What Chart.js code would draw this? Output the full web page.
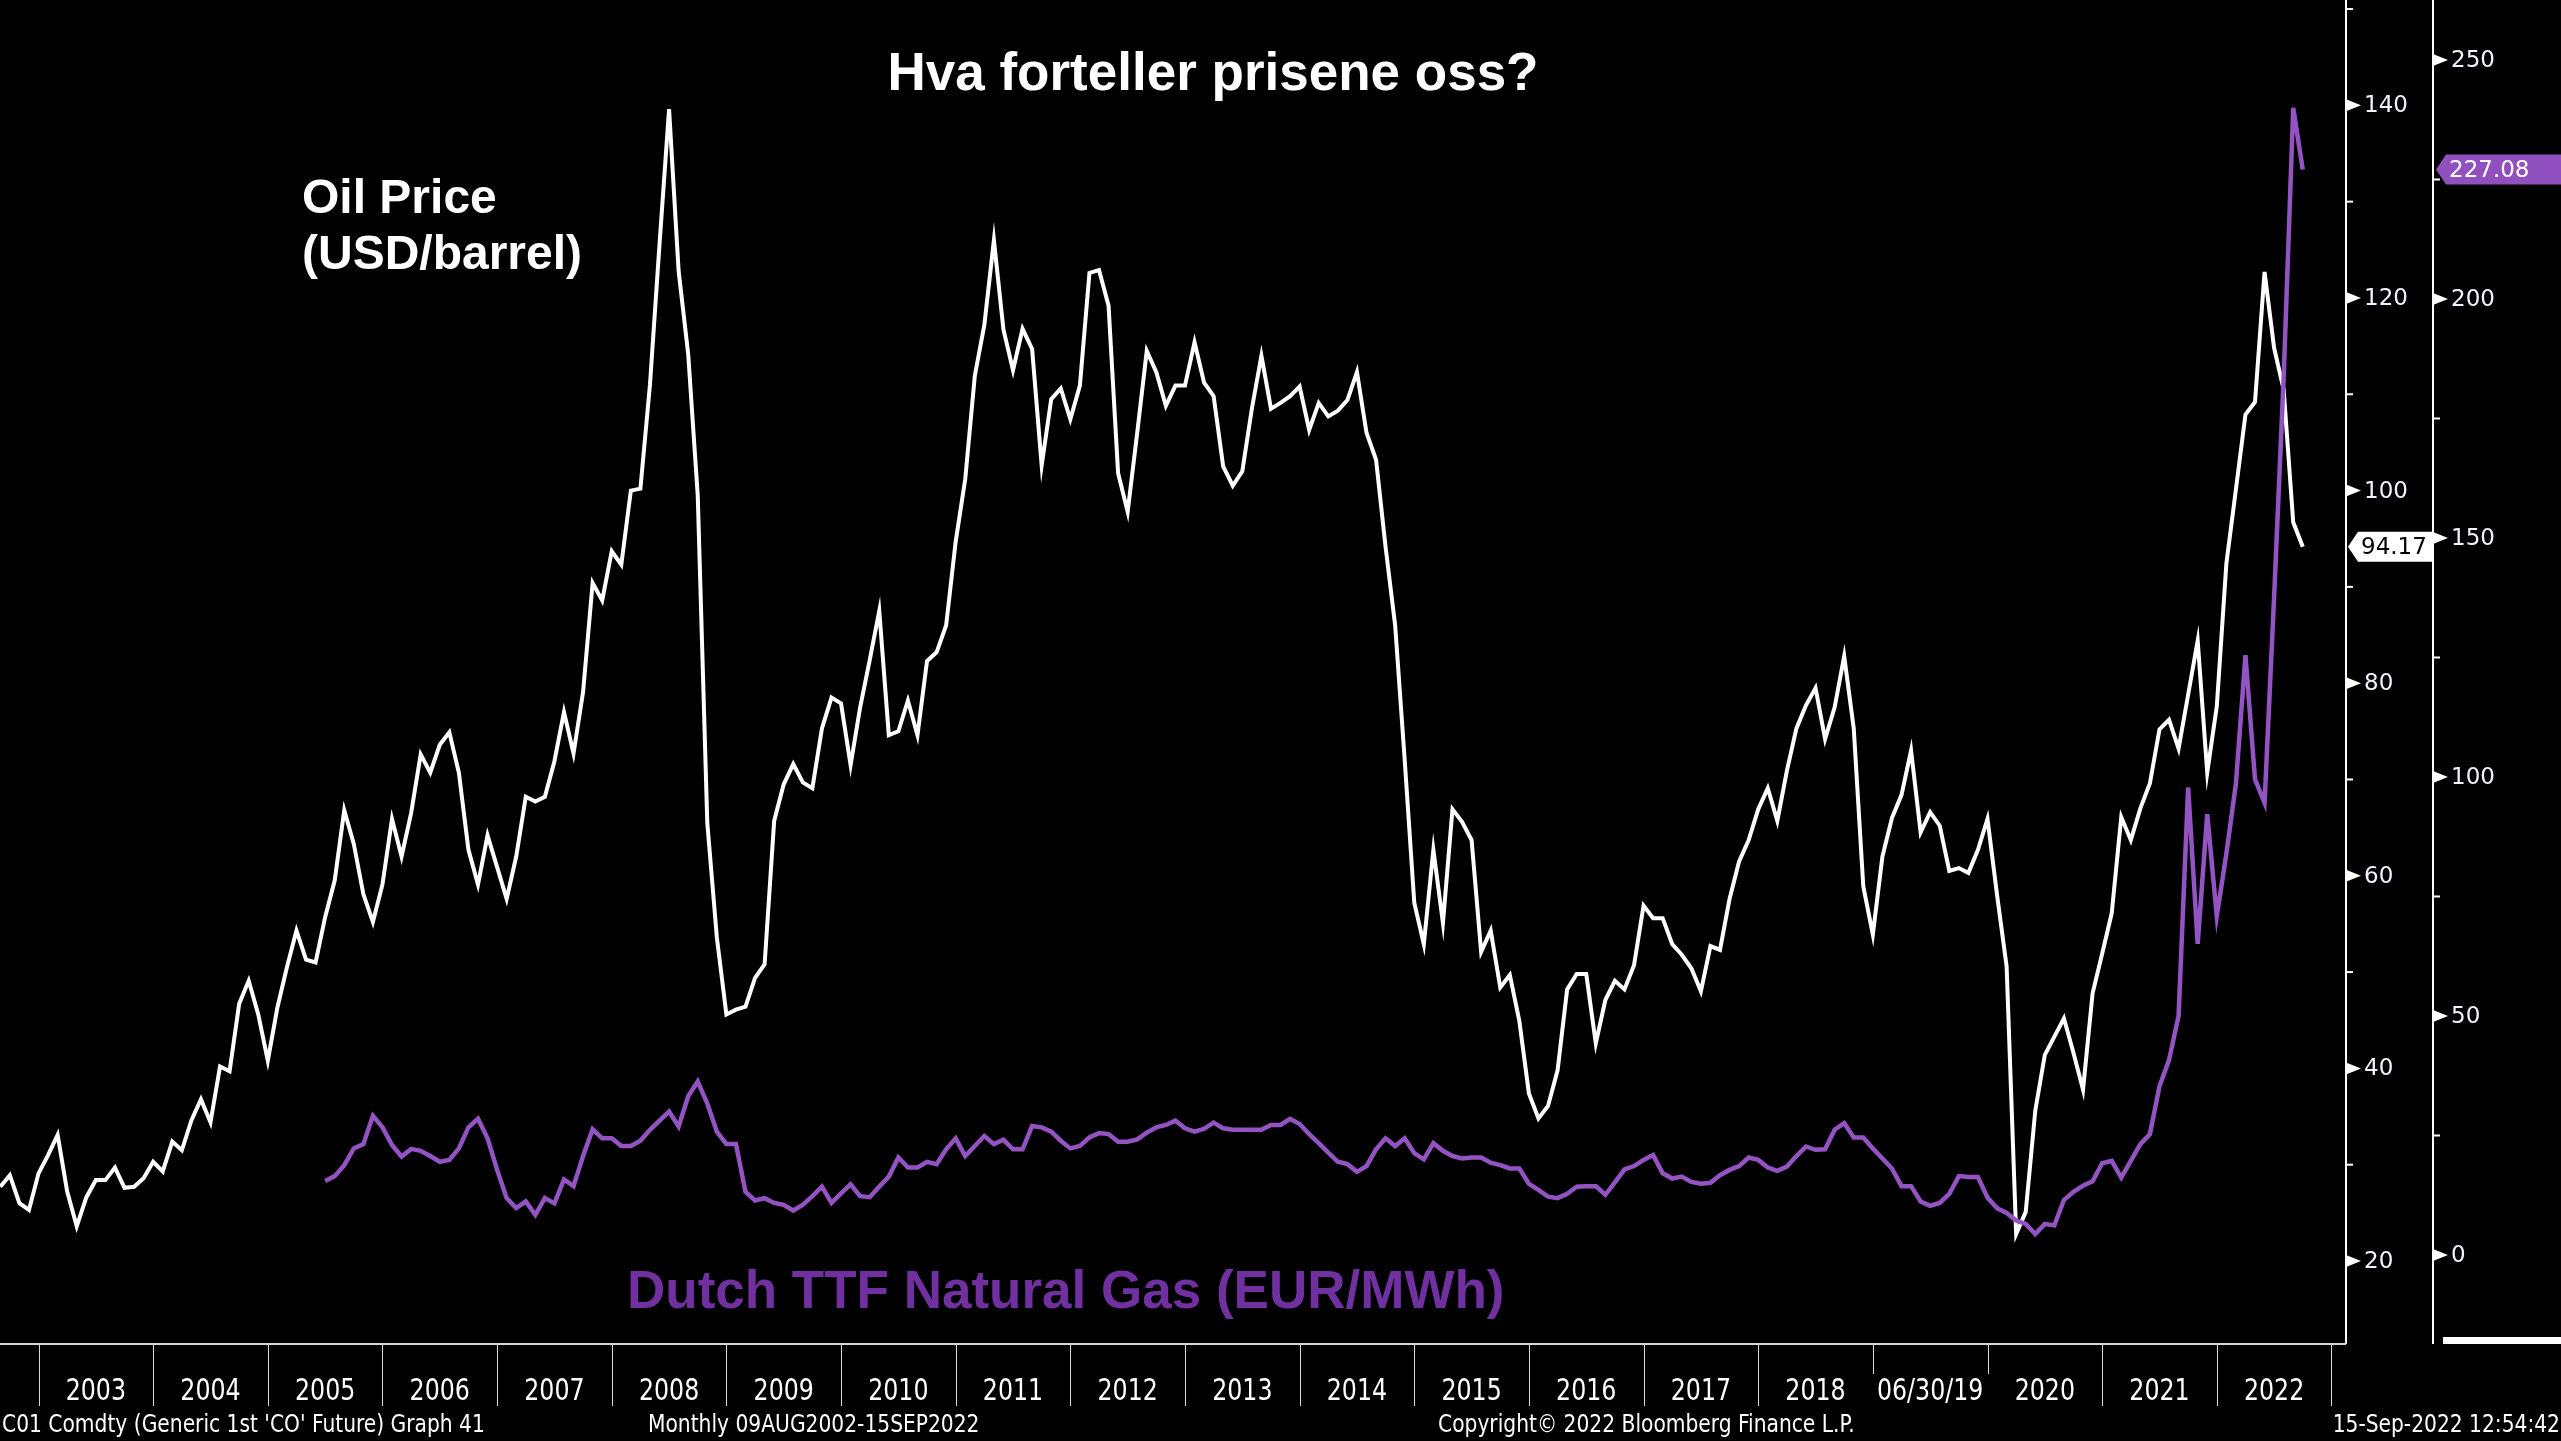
<!DOCTYPE html>
<html>
<head>
<meta charset="utf-8">
<title>Hva forteller prisene oss?</title>
<script src="https://cdn.jsdelivr.net/npm/chart.js@4.4.0/dist/chart.umd.min.js"></script>
<style>
  html, body { margin: 0; padding: 0; background: #000; overflow: hidden; }
  canvas { display: block; }
</style>
</head>
<body>
<canvas id="chart" width="2561" height="1441"></canvas>
<script>
// Brent front month, monthly, Aug 2002 - Sep 2022 (USD/barrel)
const oilStart = [2002, 8];
const oilPrice = [
  27.7, 28.9, 26.0, 25.3, 29.1,                                              // 2002
  31.0, 33.1, 27.2, 23.6, 26.6, 28.4, 28.4, 29.7, 27.6, 27.7, 28.6, 30.3,    // 2003
  29.3, 32.4, 31.5, 34.6, 36.8, 34.4, 40.2, 39.7, 46.7, 49.1, 45.6, 40.8,    // 2004
  46.3, 50.5, 54.3, 51.3, 51.0, 55.7, 59.5, 66.8, 63.3, 58.1, 55.2, 59.1,    // 2005
  65.9, 62.0, 66.5, 72.6, 70.7, 73.6, 74.9, 70.7, 62.7, 59.1, 64.2, 60.9,    // 2006
  57.6, 62.0, 68.2, 67.7, 68.2, 71.9, 77.0, 72.7, 79.1, 90.4, 88.6, 93.7,    // 2007
  92.3, 100.0, 100.2, 111.0, 125.6, 139.6, 122.8, 114.2, 99.5, 65.5, 53.6, 45.6, // 2008
  46.1, 46.4, 49.4, 50.8, 65.7, 69.5, 71.6, 69.7, 69.1, 75.3, 78.5, 77.9,    // 2009
  71.5, 77.5, 82.4, 87.5, 74.6, 75.0, 78.2, 74.6, 82.3, 83.2, 86.0, 94.7,    // 2010
  101.2, 111.9, 117.2, 126.0, 116.7, 112.5, 116.8, 114.7, 102.6, 109.5, 110.6, 107.4, // 2011
  110.9, 122.6, 122.9, 119.2, 101.8, 97.8, 106.0, 114.5, 112.3, 108.8, 110.9, 110.9, // 2012
  115.4, 111.2, 109.8, 102.5, 100.5, 102.0, 108.5, 114.0, 108.5, 109.1, 109.8, 110.8, // 2013
  106.3, 109.1, 107.7, 108.3, 109.4, 112.3, 106.0, 103.2, 94.1, 86.0, 72.0, 57.2,   // 2014
  52.9, 62.7, 55.1, 66.9, 65.6, 63.7, 52.1, 54.3, 48.4, 49.7, 44.9, 37.4,    // 2015
  34.8, 36.1, 39.8, 48.2, 49.8, 49.8, 42.6, 47.1, 49.1, 48.2, 50.7, 56.9,    // 2016
  55.6, 55.6, 52.9, 51.8, 50.4, 48.0, 52.7, 52.3, 57.6, 61.5, 63.7, 66.9,    // 2017
  69.1, 65.7, 70.9, 75.3, 77.7, 79.5, 74.2, 77.5, 82.8, 75.3, 58.9, 53.9,    // 2018
  62.0, 66.0, 68.4, 73.0, 64.5, 66.6, 65.2, 60.5, 60.8, 60.3, 62.7, 65.9,    // 2019
  58.0, 50.6, 22.8, 25.1, 35.6, 41.4, 43.3, 45.2, 41.6, 37.8, 47.8, 51.9,    // 2020
  56.1, 66.1, 63.7, 67.0, 69.6, 75.2, 76.2, 73.2, 78.8, 84.4, 70.7, 77.6,    // 2021
  92.4, 100.1, 107.9, 109.2, 122.7, 114.8, 110.5, 96.7, 94.17                // 2022
];

// Dutch TTF front month, monthly, Jun 2005 - Sep 2022 (EUR/MWh)
const gasStart = [2005, 6];
const ttfGas = [
  15.5, 16.5, 18.8, 22.3, 23.2, 29.1, 26.7,                                  // 2005
  23.0, 20.6, 22.2, 21.8, 20.7, 19.5, 19.9, 22.3, 26.7, 28.5, 24.4, 17.8,    // 2006
  11.9, 9.8, 11.2, 8.4, 11.9, 10.8, 15.8, 14.4, 20.7, 26.3, 24.4, 24.4,      // 2007
  22.8, 22.8, 23.9, 26.2, 28.1, 30.0, 26.9, 33.2, 36.3, 31.7, 25.8, 23.2,    // 2008
  23.2, 13.2, 11.4, 11.9, 10.9, 10.5, 9.3, 10.5, 12.3, 14.3, 10.9, 12.9,     // 2009
  14.8, 12.3, 12.1, 14.3, 16.4, 20.4, 18.3, 18.3, 19.5, 19.0, 22.1, 24.4,    // 2010
  20.7, 22.8, 24.9, 23.2, 24.1, 22.1, 22.1, 27.0, 26.7, 25.8, 23.9, 22.3,    // 2011
  22.8, 24.6, 25.5, 25.3, 23.7, 23.7, 24.2, 25.6, 26.7, 27.2, 28.1, 26.5,    // 2012
  25.8, 26.4, 27.7, 26.5, 26.2, 26.2, 26.2, 26.2, 27.2, 27.2, 28.5, 27.4,    // 2013
  25.3, 23.4, 21.4, 19.5, 19.0, 17.4, 18.6, 22.1, 24.4, 22.8, 24.4, 21.3,    // 2014
  20.0, 23.4, 21.8, 20.7, 20.2, 20.4, 20.4, 19.3, 18.8, 18.1, 18.1, 14.9,    // 2015
  13.6, 12.2, 11.9, 12.8, 14.3, 14.4, 14.4, 12.6, 15.2, 17.9, 18.6, 19.9,    // 2016
  20.9, 17.1, 16.0, 16.4, 15.3, 14.9, 15.1, 16.7, 17.8, 18.6, 20.4, 19.9,    // 2017
  18.3, 17.6, 18.5, 20.7, 22.7, 22.0, 22.1, 26.2, 27.6, 24.6, 24.6, 22.3,    // 2018
  20.2, 18.1, 14.4, 14.4, 11.2, 10.3, 10.9, 12.8, 16.5, 16.3, 16.3, 12.0,    // 2019
  9.8, 8.8, 7.2, 6.5, 4.4, 6.5, 6.2, 11.5, 13.2, 14.5, 15.4, 19.2,           // 2020
  19.7, 16.2, 19.7, 23.2, 25.3, 35.3, 40.8, 50.0, 97.8, 65.1, 92.2, 70.9,    // 2021
  83.9, 98.6, 125.5, 99.5, 94.6, 137.7, 183.6, 240.0, 227.08                 // 2022
];

const yearLabels = ['2003', '2004', '2005', '2006', '2007', '2008', '2009', '2010', '2011', '2012',
  '2013', '2014', '2015', '2016', '2017', '2018', '06/30/19', '2020', '2021', '2022'];
const firstYear = 2003;
const oilTicks = [20, 40, 60, 80, 100, 120, 140];
const gasTicks = [0, 50, 100, 150, 200, 250];

const titleText = 'Hva forteller prisene oss?';
const oilLabel = ['Oil Price', '(USD/barrel)'];
const gasLabel = 'Dutch TTF Natural Gas (EUR/MWh)';
const footerTexts = ["C01 Comdty (Generic 1st 'CO' Future) Graph 41", 'Monthly 09AUG2002-15SEP2022',
  'Copyright\u00a9 2022 Bloomberg Finance L.P.', '15-Sep-2022 12:54:42'];

// month-end positions on a decimal-year axis
function toPoints(start, values) {
  return values.map((v, i) => {
    const m = start[1] + i;
    return { x: start[0] + m / 12, y: v };
  });
}

const narrowFont = '"Liberation Sans Narrow", "DejaVu Sans Condensed", sans-serif';
const tickFont = '23px "DejaVu Sans", Verdana, sans-serif';
const gasAxisOffset = 87;

// condensed text, squeezed horizontally like the terminal font
function squeezedText(ctx, text, x, y, sx, align) {
  ctx.save();
  ctx.translate(x, y);
  ctx.scale(sx, 1);
  ctx.textAlign = align;
  ctx.fillText(text, 0, 0);
  ctx.restore();
}

function drawArrowBox(ctx, x, y, w, h, fill, text, textColor) {
  ctx.beginPath();
  ctx.moveTo(x, y);
  ctx.lineTo(x + 10, y - h / 2);
  ctx.lineTo(x + w, y - h / 2);
  ctx.lineTo(x + w, y + h / 2);
  ctx.lineTo(x + 10, y + h / 2);
  ctx.closePath();
  ctx.fillStyle = fill;
  ctx.fill();
  ctx.fillStyle = textColor;
  ctx.font = tickFont;
  ctx.textAlign = 'left';
  ctx.textBaseline = 'middle';
  ctx.fillText(text, x + 13, y + 1);
}

function drawAxis(ctx, scale, x, ticks, area) {
  const step = ticks[1] - ticks[0];
  ctx.strokeStyle = '#ffffff';
  ctx.fillStyle = '#ffffff';
  ctx.lineWidth = 2;
  ctx.beginPath();
  ctx.moveTo(x, area.top);
  ctx.lineTo(x, area.bottom);
  ctx.stroke();
  ctx.font = tickFont;
  ctx.textAlign = 'left';
  ctx.textBaseline = 'middle';
  ticks.forEach((v) => {
    const y = scale.getPixelForValue(v);
    ctx.fillStyle = '#ffffff';
    ctx.beginPath();
    ctx.moveTo(x, y - 6);
    ctx.lineTo(x + 15, y);
    ctx.lineTo(x, y + 6);
    ctx.closePath();
    ctx.fill();
    ctx.fillStyle = '#eef3ff';
    ctx.fillText(String(v), x + 18, y + 1);
    const minor = v + step / 2;
    if (minor < scale.max) {
      const my = scale.getPixelForValue(minor);
      ctx.beginPath();
      ctx.moveTo(x, my);
      ctx.lineTo(x + 7, my);
      ctx.stroke();
    }
  });
}

const bloombergFrame = {
  id: 'bloombergFrame',
  beforeDraw(chart) {
    const ctx = chart.ctx;
    ctx.save();
    ctx.fillStyle = '#000000';
    ctx.fillRect(0, 0, chart.width, chart.height);
    ctx.restore();
  },
  afterDraw(chart) {
    const ctx = chart.ctx;
    const area = chart.chartArea;
    const xs = chart.scales.x;
    const yOil = chart.scales.yOil;
    const yGas = chart.scales.yGas;
    ctx.save();

    // axes on the right
    drawAxis(ctx, yOil, area.right, oilTicks, area);
    drawAxis(ctx, yGas, area.right + gasAxisOffset, gasTicks, area);

    // time axis
    ctx.strokeStyle = '#d8d8d8';
    ctx.lineWidth = 2;
    ctx.beginPath();
    ctx.moveTo(area.left, area.bottom);
    ctx.lineTo(area.right, area.bottom);
    ctx.stroke();
    ctx.lineWidth = 1;
    for (let i = 0; i <= yearLabels.length; i++) {
      const yr = firstYear + i;
      const px = Math.round(xs.getPixelForValue(yr)) + 0.5;
      const short = yearLabels[i - 1] === '06/30/19' || yearLabels[i] === '06/30/19';
      ctx.beginPath();
      ctx.moveTo(px, area.bottom);
      ctx.lineTo(px, area.bottom + (short ? 30 : 62));
      ctx.stroke();
    }
    ctx.fillStyle = '#ffffff';
    ctx.font = '31px ' + narrowFont;
    ctx.textBaseline = 'alphabetic';
    yearLabels.forEach((lab, i) => {
      const a = xs.getPixelForValue(firstYear + i);
      const b = xs.getPixelForValue(firstYear + i + 1);
      squeezedText(ctx, lab, (a + b) / 2, area.bottom + 56, 0.85, 'center');
    });

    // last value tags
    const lastOil = oilPrice[oilPrice.length - 1];
    const lastGas = ttfGas[ttfGas.length - 1];
    drawArrowBox(ctx, area.right + 2, yOil.getPixelForValue(lastOil), gasAxisOffset - 3, 30,
      '#ffffff', lastOil.toFixed(2), '#000000');
    drawArrowBox(ctx, area.right + gasAxisOffset + 3, yGas.getPixelForValue(lastGas),
      chart.width - area.right - gasAxisOffset - 3, 30, '#9150c0', lastGas.toFixed(2), '#ffffff');

    // clipped tag at the bottom of the gas axis
    ctx.fillStyle = '#ffffff';
    ctx.fillRect(area.right + gasAxisOffset + 10, area.bottom - 7, chart.width - area.right - gasAxisOffset - 10, 7);

    // annotations
    ctx.fillStyle = '#ffffff';
    ctx.font = 'bold 53px "Liberation Sans", Arial, sans-serif';
    ctx.textAlign = 'center';
    ctx.fillText(titleText, 1213, 75);
    ctx.font = 'bold 48px "Liberation Sans", Arial, sans-serif';
    ctx.textAlign = 'left';
    ctx.fillText(oilLabel[0], 302, 200);
    ctx.fillText(oilLabel[1], 302, 256);
    ctx.fillStyle = '#7030a0';
    ctx.font = 'bold 53px "Liberation Sans", Arial, sans-serif';
    ctx.fillText(gasLabel, 627, 1293);

    // footer
    ctx.fillStyle = '#ffffff';
    ctx.font = '25px ' + narrowFont;
    squeezedText(ctx, footerTexts[0], 2, 1425, 0.9, 'left');
    squeezedText(ctx, footerTexts[1], 648, 1425, 0.9, 'left');
    squeezedText(ctx, footerTexts[2], 1438, 1425, 0.9, 'left');
    squeezedText(ctx, footerTexts[3], chart.width - 1, 1425, 0.9, 'right');
    ctx.restore();
  }
};

new Chart(document.getElementById('chart').getContext('2d'), {
  type: 'line',
  data: {
    datasets: [
      {
        label: gasLabel,
        data: toPoints(gasStart, ttfGas),
        yAxisID: 'yGas',
        borderColor: '#9453c2',
        borderWidth: 4.5,
        pointRadius: 0,
        tension: 0,
      },
      {
        label: oilLabel.join(' '),
        data: toPoints(oilStart, oilPrice),
        yAxisID: 'yOil',
        borderColor: '#ffffff',
        borderWidth: 4,
        pointRadius: 0,
        tension: 0,
      },
    ],
  },
  options: {
    responsive: false,
    animation: false,
    devicePixelRatio: 1,
    layout: { padding: { left: 0, top: 0, right: 215, bottom: 97 } },
    scales: {
      x: { type: 'linear', display: false, min: 2002.664, max: 2023.127 },
      yOil: { type: 'linear', display: false, position: 'right', min: 11.38, max: 150.94 },
      yGas: { type: 'linear', display: false, position: 'right', min: -18.62, max: 262.55 },
    },
    plugins: {
      legend: { display: false },
      tooltip: { enabled: false },
    },
  },
  plugins: [bloombergFrame],
});
</script>
</body>
</html>
